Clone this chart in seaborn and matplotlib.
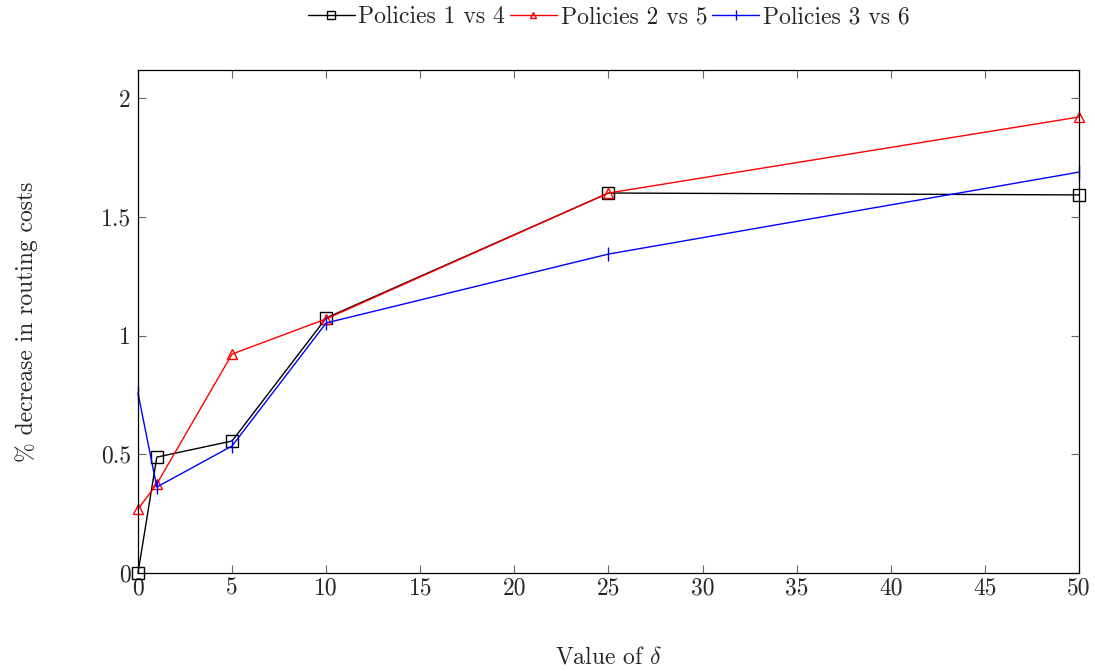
import matplotlib
matplotlib.use("Agg")
import matplotlib.pyplot as plt
import seaborn as sns
import pandas as pd

delta = [0, 1, 5, 10, 25, 50]
pol_1_vs_4 = [0.0, 0.488, 0.556, 1.074, 1.600, 1.592]
pol_2_vs_5 = [0.269, 0.375, 0.922, 1.070, 1.600, 1.920]
pol_3_vs_6 = [0.758, 0.362, 0.535, 1.053, 1.343, 1.688]
series_names = ["Policies 1 vs 4", "Policies 2 vs 5", "Policies 3 vs 6"]
x_ticks = [0, 5, 10, 15, 20, 25, 30, 35, 40, 45, 50]
y_ticks = [0, 0.5, 1, 1.5, 2]

sns.set_style("ticks")
plt.rcParams["font.family"] = "serif"
plt.rcParams["font.serif"] = ["cmr10"]
plt.rcParams["mathtext.fontset"] = "cm"
plt.rcParams["axes.formatter.use_mathtext"] = True

df = pd.DataFrame({
    "delta": delta * 3,
    "value": pol_1_vs_4 + pol_2_vs_5 + pol_3_vs_6,
    "series": [series_names[0]] * 6 + [series_names[1]] * 6 + [series_names[2]] * 6,
})

fig = plt.figure(figsize=(10.95, 6.71), dpi=100)
ax = fig.add_axes([0.126, 0.146, 0.8594, 0.7497])

colors = ["black", "red", "blue"]
markers = ["s", "^", "|"]
msizes = [9, 7, 10]
for name, c, m, ms in zip(series_names, colors, markers, msizes):
    sub = df[df["series"] == name]
    sns.lineplot(data=sub, x="delta", y="value", ax=ax, color=c, marker=m,
                 markersize=ms, markerfacecolor="none", markeredgecolor=c,
                 markeredgewidth=1.0, linewidth=1.0, label=name, clip_on=False)

ax.set_xlim(0, 50)
ax.set_ylim(0, 2.118)
ax.set_xticks(x_ticks)
ax.set_yticks(y_ticks)
ax.set_xticklabels([str(t) for t in x_ticks])
ax.set_yticklabels(["0", "0.5", "1", "1.5", "2"])
ax.tick_params(direction="in", length=6, width=0.8, color="#666666",
               labelsize=17, top=True, right=True)
ax.tick_params(axis="y", pad=5)
ax.tick_params(axis="x", pad=3)
for s in ax.spines.values():
    s.set_linewidth(0.9)
    s.set_color("black")
    s.set_visible(True)

ax.set_xlabel(r"Value of $\delta$", fontsize=17, labelpad=34)
ax.set_ylabel("% decrease in routing costs", fontsize=17, labelpad=45)

leg = ax.legend(loc="center", bbox_to_anchor=(0.5, 1.105), ncol=3,
                frameon=False, fontsize=17, handlelength=2.0, markerscale=0.7,
                handletextpad=0.15, columnspacing=0.2, borderaxespad=0)

fig.savefig("out.png", dpi=100)
